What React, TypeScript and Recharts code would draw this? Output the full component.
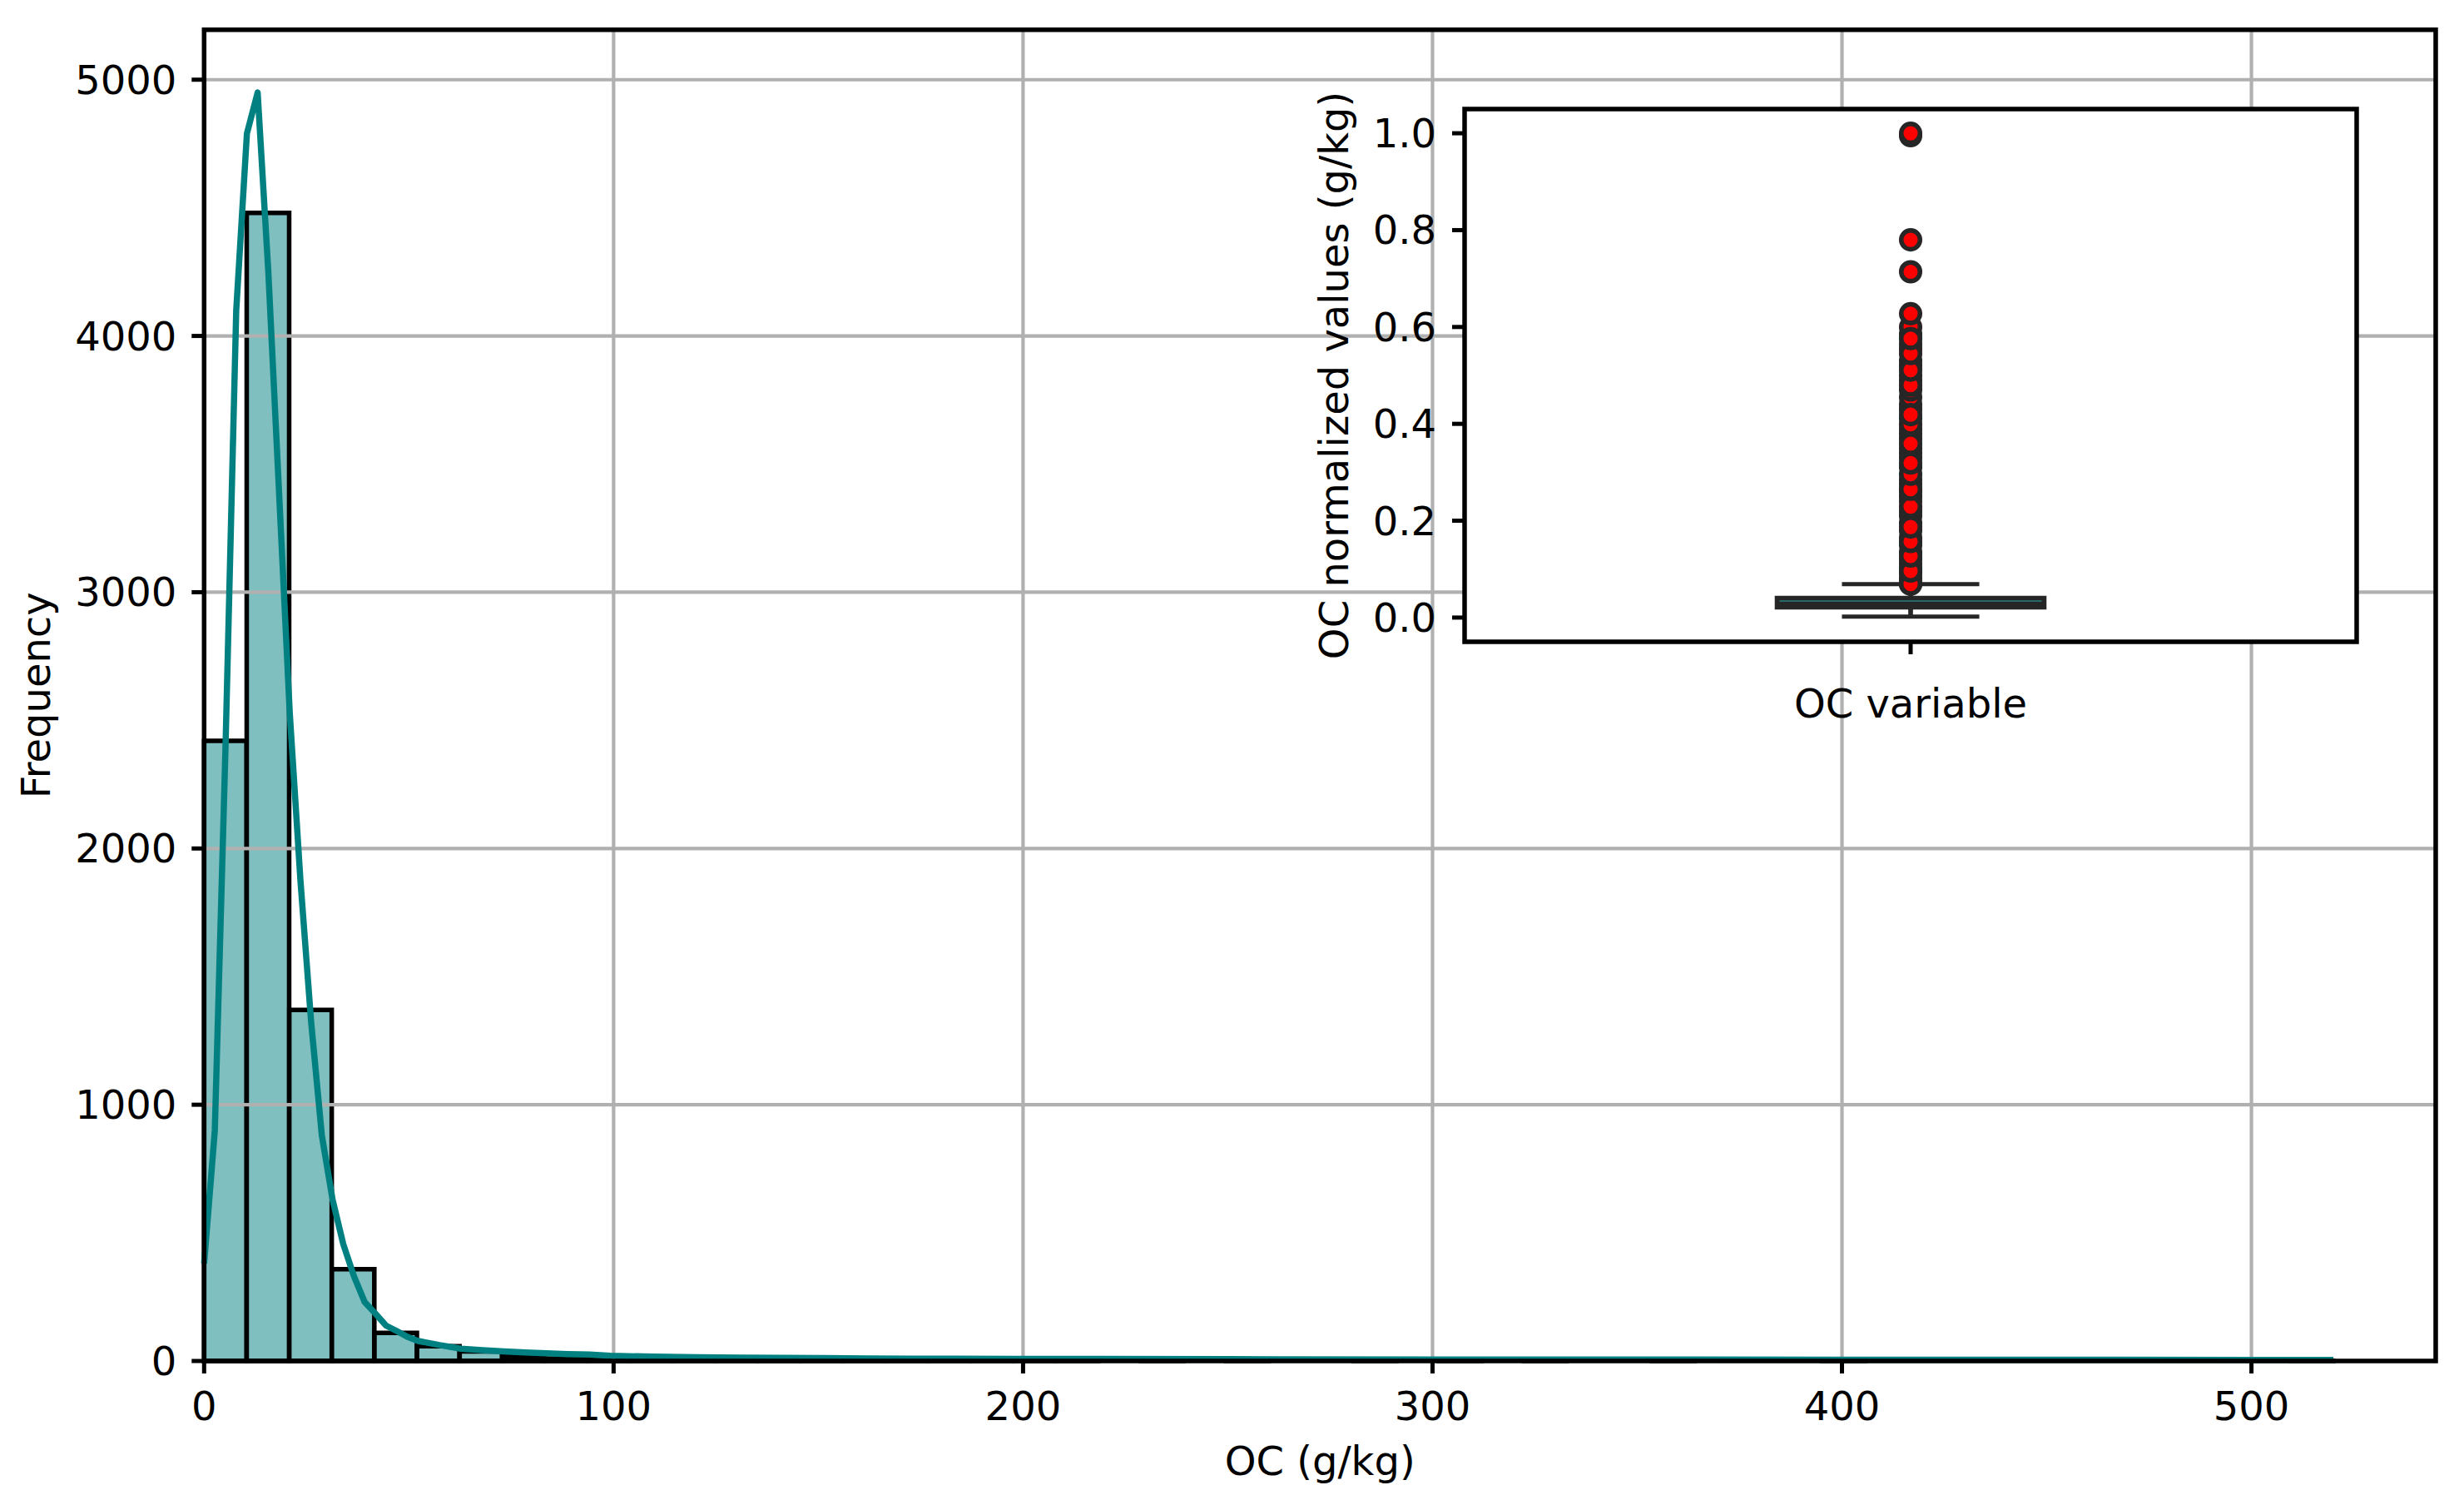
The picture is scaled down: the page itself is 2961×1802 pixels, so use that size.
import React from "react";
import {
  ComposedChart,
  Bar,
  Line,
  Scatter,
  XAxis,
  YAxis,
  CartesianGrid,
  ReferenceArea,
  ReferenceLine,
  Label,
} from "recharts";

// histogram: 50 bins over 0..520 g/kg
const binWidth = 10.4;
const binCounts = [
  2420, 4480, 1370, 358, 110, 58, 37, 17, 10, 7,
  6, 4, 3, 3, 2, 2, 1, 2, 1, 1,
  1, 0, 1, 0, 1, 0, 0, 1, 0, 1,
  0, 1, 0, 0, 1, 0, 0, 0, 1, 0,
  0, 0, 0, 0, 0, 0, 0, 0, 0, 1,
];

// kde curve (scaled to counts)
const kdeX = [
  0, 2.61, 5.23, 7.84, 10.45, 13.07, 15.68, 18.3, 20.91, 23.52,
  26.14, 28.75, 31.37, 33.98, 36.59, 39.21, 41.82, 44.43, 47.05, 49.66,
  52.27, 57.5, 62.7, 67.9, 73.2, 78.4, 83.6, 88.8, 94.1, 99.3,
  109.8, 120.2, 130.7, 141.1, 151.6, 162.0, 172.5, 183.0, 198.6, 219.5,
  250.0, 300.0, 350.0, 400.0, 450.0, 500.0, 520.0,
];
const kdeY = [
  380, 900, 2400, 4100, 4790, 4950, 4250, 3390, 2530, 1876,
  1322, 880, 630, 456, 331, 230, 185, 138, 117, 94,
  78, 62, 48, 42, 37, 33, 30, 27, 25, 20,
  17, 15, 13, 12, 11, 10, 9, 9, 8, 8,
  7, 6, 6, 5, 5, 4, 4,
];

const xTicks = [0, 100, 200, 300, 400, 500];
const yTicks = [0, 1000, 2000, 3000, 4000, 5000];

// inset box plot (normalized OC)
const whiskerLow = 0.002;
const q1 = 0.0207;
const median = 0.0343;
const q3 = 0.0408;
const whiskerHigh = 0.069;
const outlierFill = [
  0.07, 0.08, 0.09, 0.1, 0.11, 0.12, 0.135, 0.15, 0.165, 0.18,
  0.195, 0.21, 0.22, 0.24, 0.25, 0.26, 0.275, 0.285, 0.31, 0.33,
  0.34, 0.35, 0.37, 0.38, 0.39, 0.41, 0.43, 0.44, 0.455, 0.47,
  0.49, 0.5, 0.52, 0.53, 0.555, 0.565, 0.585, 0.6,
];
const outlierTop = [
  0.069, 0.096, 0.127, 0.157, 0.187, 0.229, 0.265, 0.296, 0.319, 0.359,
  0.399, 0.419, 0.48, 0.511, 0.545, 0.576, 0.6275, 0.714, 0.78, 0.995, 1.0,
];
const insetTicks = [0, 0.2, 0.4, 0.6, 0.8, 1.0];

const binRows = binCounts.map((count, i) => ({ x: (i + 0.5) * binWidth, count }));
const kdeRows = kdeX.map((x, i) => ({ x, y: kdeY[i] }));
const outlierRows = [...outlierFill, ...outlierTop].map((y) => ({ x: 0, y }));

const FONT = "DejaVu Sans";
const FS = 48;
const tickStyle = { fill: "#000", fontSize: FS, fontFamily: FONT };
const tickLine = { stroke: "#000", strokeWidth: 5 };
const dark = "#262626";

function Outlier(props: any) {
  return (
    <circle cx={props.cx} cy={props.cy} r={11.3} fill="#ff0000" stroke={dark} strokeWidth={5.5} />
  );
}

export default function App() {
  return (
    <div
      style={{
        position: "absolute",
        left: 0,
        top: 0,
        width: 2961,
        height: 1802,
        background: "#fff",
        fontFamily: FONT,
      }}
    >
      <ComposedChart
        width={2961}
        height={1802}
        data={binRows}
        margin={{ top: 35.7, right: 34, bottom: 0, left: 0 }}
        barCategoryGap={0}
        barGap={0}
      >
        <XAxis
          dataKey="x"
          type="number"
          domain={[0, 545]}
          ticks={xTicks}
          interval={0}
          height={167}
          axisLine={false}
          tickSize={15}
          tickMargin={21.5}
          tickLine={tickLine}
          tick={tickStyle}
        >
          <Label value="OC (g/kg)" position="insideTop" offset={102.6} fill="#000" fontSize={FS} fontFamily={FONT} />
        </XAxis>
        <XAxis xAxisId="kde" dataKey="x" type="number" domain={[0, 545]} hide />
        <YAxis
          type="number"
          domain={[0, 5195]}
          ticks={yTicks}
          interval={0}
          width={245.3}
          axisLine={false}
          tickSize={15}
          tickMargin={18}
          tickLine={tickLine}
          tick={tickStyle}
        >
          <Label value="Frequency" angle={-90} position="center" dx={-79.7} fill="#000" fontSize={FS} fontFamily={FONT} />
        </YAxis>
        <Bar
          dataKey="count"
          fill="#80bfbf"
          stroke="#000"
          strokeWidth={5.5}
          isAnimationActive={false}
        />
        <CartesianGrid stroke="#b0b0b0" strokeWidth={4.2} zIndex={350} />
        <Line
          xAxisId="kde"
          data={kdeRows}
          dataKey="y"
          type="linear"
          stroke="#008080"
          strokeWidth={7.5}
          strokeLinejoin="round"
          dot={false}
          activeDot={false}
          isAnimationActive={false}
        />
        <ReferenceArea
          x1={0}
          x2={545}
          y1={0}
          y2={5195}
          fill="none"
          stroke="#000"
          strokeWidth={5.5}
          ifOverflow="visible"
          zIndex={1500}
        />
      </ComposedChart>

      <div style={{ position: "absolute", left: 1500, top: 60 }}>
        <ComposedChart
          width={1360}
          height={840}
          data={outlierRows}
          margin={{ top: 71, right: 28, bottom: 0, left: 0 }}
        >
          <XAxis
            dataKey="x"
            type="number"
            domain={[-0.5, 0.5]}
            ticks={[0]}
            interval={0}
            height={129}
            axisLine={false}
            tickSize={15}
            tickMargin={20}
            tickLine={tickLine}
            tick={tickStyle}
            tickFormatter={() => ""}
          >
            <Label value="OC variable" position="insideTop" offset={56.6} fill="#000" fontSize={FS} fontFamily={FONT} />
          </XAxis>
          <YAxis
            dataKey="y"
            type="number"
            domain={[-0.05, 1.05]}
            ticks={insetTicks}
            interval={0}
            width={260}
            axisLine={false}
            tickSize={15}
            tickMargin={19}
            tickLine={tickLine}
            tick={tickStyle}
            tickFormatter={(v: number) => v.toFixed(1)}
          >
            <Label
              value="OC normalized values (g/kg)"
              angle={-90}
              position="center"
              dx={-27.5}
              fill="#000"
              fontSize={FS}
              fontFamily={FONT}
            />
          </YAxis>
          <ReferenceArea
            x1={-0.5}
            x2={0.5}
            y1={-0.05}
            y2={1.05}
            fill="#fff"
            fillOpacity={1}
            stroke="#000"
            strokeWidth={5.5}
            ifOverflow="visible"
          />
          <ReferenceLine segment={[{ x: 0, y: q1 }, { x: 0, y: whiskerLow }]} stroke={dark} strokeWidth={5.7} />
          <ReferenceLine segment={[{ x: 0, y: q3 }, { x: 0, y: whiskerHigh }]} stroke={dark} strokeWidth={5.7} />
          <ReferenceLine segment={[{ x: -0.077, y: whiskerLow }, { x: 0.077, y: whiskerLow }]} stroke={dark} strokeWidth={5} />
          <ReferenceLine segment={[{ x: -0.077, y: whiskerHigh }, { x: 0.077, y: whiskerHigh }]} stroke={dark} strokeWidth={5} />
          <ReferenceArea
            x1={-0.15}
            x2={0.15}
            y1={q1}
            y2={q3}
            fill={dark}
            fillOpacity={1}
            stroke={dark}
            strokeWidth={5}
          />
          <ReferenceLine segment={[{ x: -0.147, y: median }, { x: 0.147, y: median }]} stroke="#2a7f7f" strokeWidth={1.5} />
          <Scatter data={outlierRows} shape={<Outlier />} isAnimationActive={false} />
        </ComposedChart>
      </div>
    </div>
  );
}
